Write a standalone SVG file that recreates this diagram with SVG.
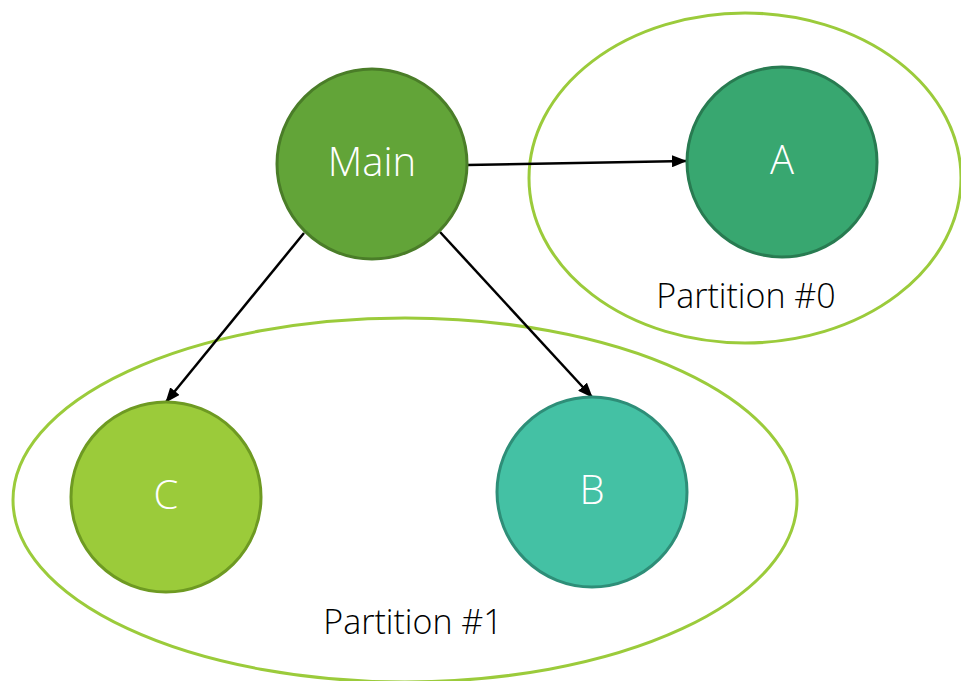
<svg xmlns="http://www.w3.org/2000/svg" width="961" height="681" viewBox="0 0 961 681">
<defs>
<style>
.part{fill:none;stroke:#9BCB3B;stroke-width:3}
.node{stroke-width:3}
.lbl{font-family:"Open Sans","Liberation Sans",sans-serif;font-weight:300;fill:#fff;font-size:40px;text-anchor:middle}
.plbl{font-family:"Open Sans","Liberation Sans",sans-serif;font-weight:300;fill:#000;font-size:34px;text-anchor:middle}
.edge{stroke:#000;stroke-width:2.5;fill:none;marker-end:url(#arr)}
</style>
<marker id="arr" viewBox="0 0 15 12" refX="14" refY="6" markerWidth="15" markerHeight="12" markerUnits="userSpaceOnUse" orient="auto">
<path d="M0,0 L15,6 L0,12 z" fill="#000"/>
</marker>
</defs>
<g id="partition0">
<ellipse class="part" cx="745" cy="178" rx="216" ry="165"/>
<text class="plbl" x="746" y="308">Partition #0</text>
</g>
<g id="partition1">
<ellipse class="part" cx="405" cy="500" rx="392" ry="182"/>
<text class="plbl" x="413" y="634">Partition #1</text>
</g>
<g id="connectors">
<path class="edge" d="M467,165 L686,161"/>
<path class="edge" d="M304,233 L166,402"/>
<path class="edge" d="M440,232 L592,397"/>
</g>
<g id="Main">
<circle class="node" cx="372" cy="164" r="95" fill="#62A438" stroke="#4A7D28"/>
<text class="lbl" x="372" y="176">Main</text>
</g>
<g id="A">
<circle class="node" cx="782" cy="162" r="95" fill="#38A770" stroke="#287B51"/>
<text class="lbl" x="782" y="174">A</text>
</g>
<g id="C">
<circle class="node" cx="166" cy="497" r="95" fill="#9BCB3A" stroke="#6E9A22"/>
<text class="lbl" x="166" y="509">C</text>
</g>
<g id="B">
<circle class="node" cx="592" cy="492" r="95" fill="#44C1A4" stroke="#2E8E78"/>
<text class="lbl" x="592" y="504">B</text>
</g>
</svg>
